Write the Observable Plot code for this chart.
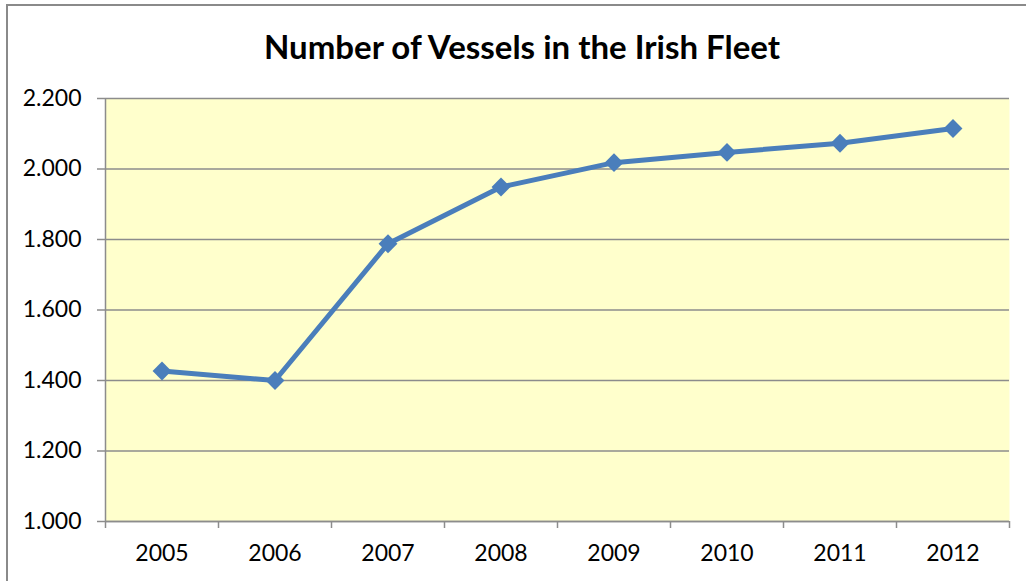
<!DOCTYPE html>
<html>
<head>
<meta charset="utf-8">
<script src="https://cdn.jsdelivr.net/npm/d3@7"></script>
<script src="https://cdn.jsdelivr.net/npm/@observablehq/plot@0.6"></script>
<style>
  html, body { margin: 0; padding: 0; background: #fff; overflow: hidden; }
  #wrap { position: relative; width: 1026px; height: 581px; overflow: hidden; }
  #border { position: absolute; left: 6px; top: 4px; width: 1100px; height: 700px; border: 2px solid #8a8a8a; box-sizing: border-box; }
  #title { position: absolute; left: 0; width: 1044px; top: 30px; text-align: center; font-family: Lato, sans-serif; font-weight: bold; font-size: 33px; color: #000; line-height: 1; }
  #chart { position: absolute; left: 0; top: 0; }
</style>
</head>
<body>
<div id="wrap">
  <div id="border"></div>
  <div id="title">Number of Vessels in the Irish Fleet</div>
  <div id="chart"></div>
</div>
<script>
const years = [2005, 2006, 2007, 2008, 2009, 2010, 2011, 2012];
const vessels = [1427, 1400, 1788, 1949, 2018, 2047, 2073, 2115];
const yTicks = [1000, 1200, 1400, 1600, 1800, 2000, 2200];

const data = years.map((year, i) => ({year, value: vessels[i]}));
const bounds = years.map(y => y - 0.5).concat([years[years.length - 1] + 0.5]);
const fmt = d => d3.format(",")(d).replace(/,/g, ".");

const grey = "#8c8c8c";
const blue = "#4a7ebb";

const plot = Plot.plot({
  width: 1026,
  height: 581,
  marginLeft: 105,
  marginRight: 17,
  marginTop: 98,
  marginBottom: 60,
  style: {fontFamily: "Lato, sans-serif", fontSize: "23px", color: "#000", background: "transparent"},
  x: {type: "linear", domain: [bounds[0], bounds[bounds.length - 1]]},
  y: {domain: [yTicks[0], yTicks[yTicks.length - 1]]},
  marks: [
    Plot.frame({fill: "#ffffcc", stroke: null}),
    Plot.gridY(yTicks, {stroke: grey, strokeOpacity: 1, strokeWidth: 1.5}),
    Plot.axisY(yTicks, {tickSize: 8, tickPadding: 16, tickFormat: fmt, stroke: grey, strokeWidth: 1.5, fill: "#000", fontSize: 23, label: null}),
    Plot.axisX(bounds, {tickSize: 7, tickFormat: () => "", stroke: grey, strokeWidth: 1.5, label: null}),
    Plot.axisX(years, {tickSize: 0, tickPadding: 23, tickFormat: d => String(d), fill: "#000", fontSize: 23, label: null}),
    Plot.ruleX([bounds[0]], {stroke: grey, strokeWidth: 1.5}),
    Plot.ruleY([yTicks[0]], {stroke: grey, strokeWidth: 1.5}),
    Plot.line(data, {x: "year", y: "value", stroke: blue, strokeWidth: 5}),
    Plot.dot(data, {x: "year", y: "value", symbol: "diamond2", r: 8.5, fill: blue, stroke: null})
  ]
});
document.getElementById("chart").appendChild(plot);
</script>
</body>
</html>
